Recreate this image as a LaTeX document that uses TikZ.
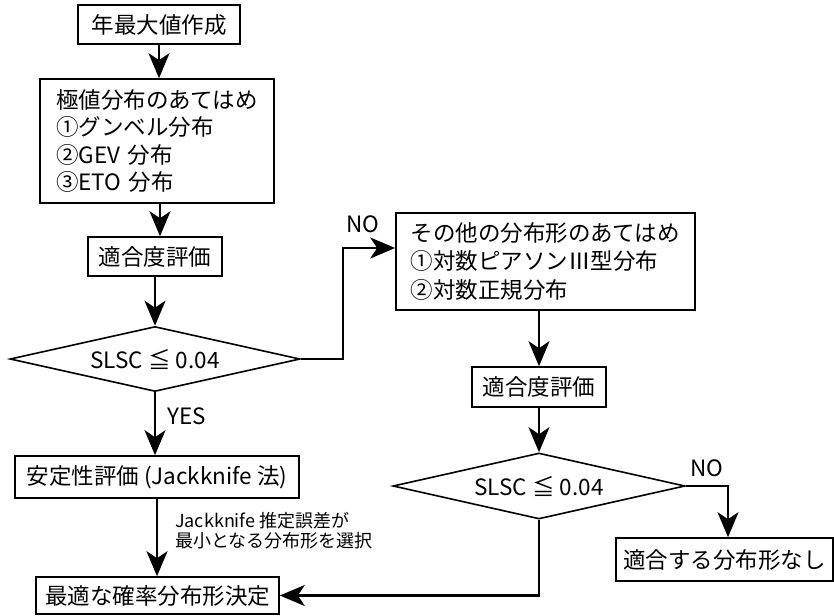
\documentclass[tikz,border=0pt]{standalone}
\usepackage{fontspec}
\setmainfont{Noto Sans CJK JP}
\usetikzlibrary{shapes.geometric,arrows.meta,calc}
\begin{document}
\begin{tikzpicture}[x=1pt,y=-1pt,
  font=\fontsize{22.5}{27.3}\selectfont,
  box/.style={draw, line width=1.6pt, inner sep=0pt, align=center},
  dia/.style={draw, diamond, aspect=4.46, line width=1.6pt, inner sep=0pt},
  arr/.style={line width=2.4pt, -{Stealth[length=25pt,width=21pt,inset=7pt]}},
  lbl/.style={inner sep=0pt}]
\useasboundingbox (0,0) rectangle (834,615);
% left column
\node[box, minimum width=162pt, minimum height=39pt] (b1) at (159,24.5) {年最大値作成};
\node[box, minimum width=234pt, minimum height=124pt, align=left, text width=202pt] (b2) at (157,141)
  {極値分布のあてはめ\\①グンベル分布\\②GEV 分布\\③ETO 分布};
\node[box, minimum width=134pt, minimum height=39pt] (b3) at (155,256.5) {適合度評価};
\node[dia, minimum width=290pt, minimum height=65pt] (d1) at (155,359) {SLSC ≦ 0.04};
\node[box, minimum width=284pt, minimum height=42pt] (bj) at (157,477) {安定性評価 (Jackknife 法)};
\node[box, minimum width=243pt, minimum height=37pt] (b7) at (157.5,595.5) {最適な確率分布形決定};
% right column
\node[box, minimum width=299pt, minimum height=97pt, align=left, text width=270pt,
  font=\fontsize{22.5}{28.5}\selectfont] (b4) at (545.5,261.5)
  {その他の分布形のあてはめ\\①対数ピアソンⅢ型分布\\②対数正規分布};
\node[box, minimum width=134pt, minimum height=40pt] (b5) at (539,387) {適合度評価};
\node[dia, minimum width=292pt, minimum height=66pt] (d2) at (539,486) {SLSC ≦ 0.04};
\node[box, minimum width=217pt, minimum height=43pt] (b6) at (724.5,559.5) {適合する分布形なし};
% connectors
\draw[arr] (b1.south) -- (b1.south |- b2.north);
\draw[arr] ([xshift=3pt]b2.south) -- ([xshift=3pt]b2.south |- b3.north);
\draw[arr] (b3.south) -- (d1.north);
\draw[arr] (d1.south) -- (d1.south |- bj.north);
\draw[arr] (bj.south) -- (bj.south |- b7.north);
\draw[arr] (d1.east) -- ++(42,0) |- ([yshift=13.5pt]b4.west);
\draw[arr] (b5.north |- b4.south) -- (b5.north);
\draw[arr] (b5.south) -- (d2.north);
\draw[arr] (d2.east) -| ([xshift=3.5pt]b6.north);
\draw[arr] (d2.south) |- (b7.east);
% labels
\node[lbl] (no1) at (363,224) {NO};
\node[lbl] (yes) at (187,416) {YES};
\node[lbl] (no2) at (707,468) {NO};
\node[lbl, anchor=west, align=left, font=\fontsize{18}{20}\selectfont] (jk) at (175,531)
  {Jackknife 推定誤差が\\最小となる分布形を選択};
\end{tikzpicture}
\end{document}
